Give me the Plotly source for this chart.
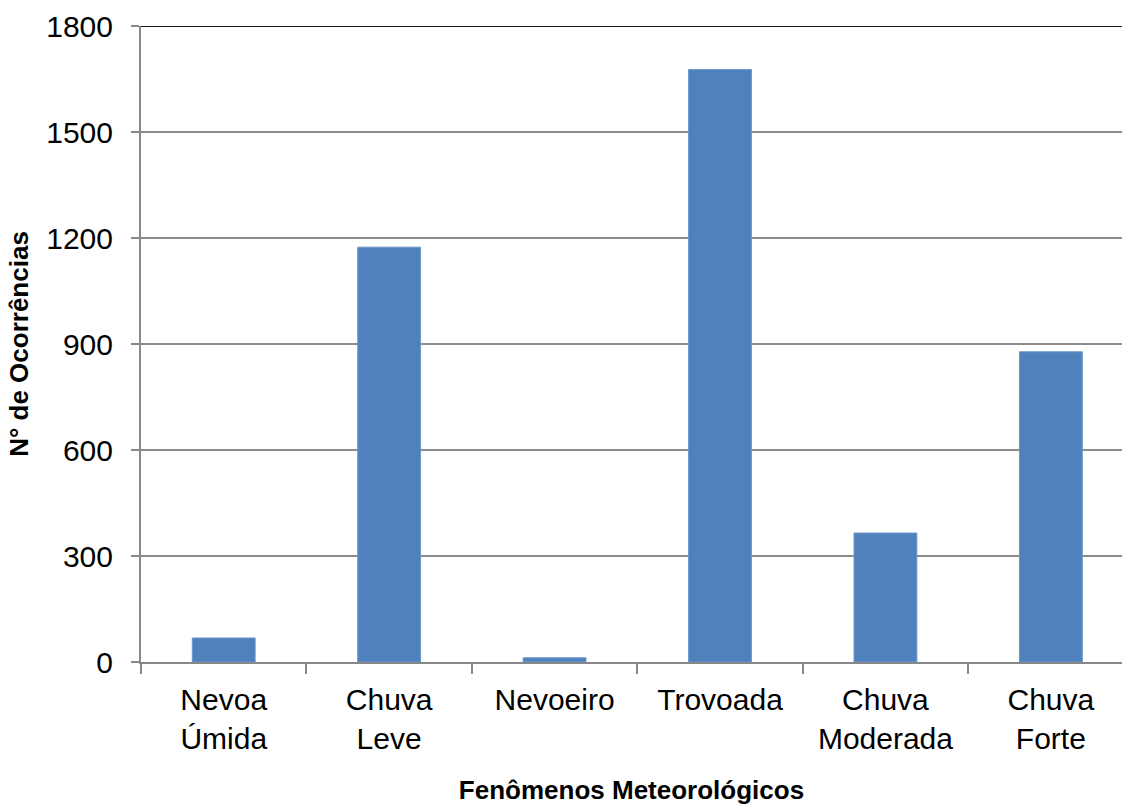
import plotly.graph_objects as go

categories = ["Nevoa<br>Úmida", "Chuva<br>Leve", "Nevoeiro", "Trovoada", "Chuva<br>Moderada", "Chuva<br>Forte"]
values = [68, 1174, 12, 1677, 365, 878]
y_ticks = [0, 300, 600, 900, 1200, 1500, 1800]

font_family = "Liberation Sans, Arial, sans-serif"

fig = go.Figure(go.Bar(
    x=categories, y=values,
    marker=dict(color="#4F81BD", line=dict(color="#6E98CC", width=1)),
    width=0.38,
))

fig.update_layout(
    width=1122, height=805,
    margin=dict(l=141, r=0, t=26, b=143, autoexpand=False),
    paper_bgcolor="white", plot_bgcolor="white",
    font=dict(family=font_family, color="black"),
    showlegend=False,
)

fig.update_xaxes(
    type="category", range=[-0.5, 5.43],
    showline=True, linecolor="#888888", linewidth=2,
    ticks="outside", tickson="boundaries", ticklen=10, tickcolor="#888888", tickwidth=2,
    tickfont=dict(size=30), ticklabelstandoff=10, showgrid=False,
    title=dict(text="<b>Fenômenos Meteorológicos</b>", font=dict(size=26), standoff=28),
    automargin=False,
)

fig.update_yaxes(
    range=[0, 1800], tickvals=y_ticks,
    showline=True, linecolor="#888888", linewidth=2,
    ticks="outside", ticklen=8, tickcolor="#888888", tickwidth=2,
    tickfont=dict(size=30), ticklabelstandoff=12,
    showgrid=True, gridcolor="#8C8C8C", gridwidth=1.6,
    zeroline=False,
    title=dict(text="<b>N° de Ocorrências</b>", font=dict(size=26), standoff=10),
    automargin=False,
)

fig.add_shape(type="line", xref="paper", yref="y", x0=0, x1=1, y0=y_ticks[-1], y1=y_ticks[-1],
              line=dict(color="#1a1a1a", width=2))

fig.write_html("out.html")
